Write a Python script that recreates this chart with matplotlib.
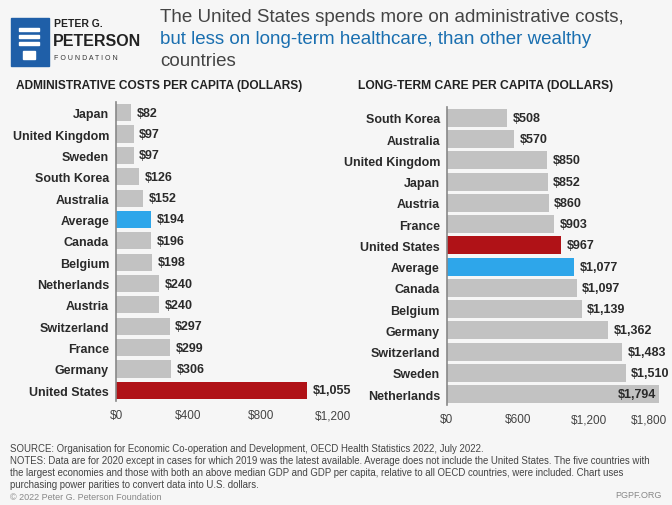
import matplotlib.pyplot as plt
from matplotlib.patches import Rectangle
from matplotlib.ticker import FuncFormatter
from matplotlib.transforms import ScaledTranslation

plt.rcParams['font.family'] = 'sans-serif'
plt.rcParams['font.sans-serif'] = ['Liberation Sans', 'DejaVu Sans']

# Administrative costs per capita
admin_countries = ['Japan', 'United Kingdom', 'Sweden', 'South Korea', 'Australia', 'Average',
                   'Canada', 'Belgium', 'Netherlands', 'Austria', 'Switzerland', 'France',
                   'Germany', 'United States']
admin_values = [82, 97, 97, 126, 152, 194, 196, 198, 240, 240, 297, 299, 306, 1055]

# Long-term care per capita
ltc_countries = ['South Korea', 'Australia', 'United Kingdom', 'Japan', 'Austria', 'France',
                 'United States', 'Average', 'Canada', 'Belgium', 'Germany', 'Switzerland',
                 'Sweden', 'Netherlands']
ltc_values = [508, 570, 850, 852, 860, 903, 967, 1077, 1097, 1139, 1362, 1483, 1510, 1794]

admin_ticks = [0, 400, 800, 1200]
ltc_ticks = [0, 600, 1200, 1800]

BG = '#f6f6f6'
GRAY = '#c2c2c2'
RED = '#b01217'
BLUE = '#2ea6ea'
TXT = '#2a2a2a'


def bar_color(name):
    if name == 'United States':
        return RED
    if name == 'Average':
        return BLUE
    return GRAY


def draw_panel(ax, names, values, ticks, height, inside_last=False):
    y = list(range(len(names)))
    ax.barh(y, values, height=height, color=[bar_color(n) for n in names], zorder=2)
    ax.set_ylim(len(names) - 0.5, -0.5)
    ax.set_xlim(0, ticks[-1])
    ax.set_yticks(y)
    ax.set_yticklabels(names, fontsize=9, fontweight='bold', color=TXT)
    ax.set_xticks(ticks)
    ax.xaxis.set_major_formatter(FuncFormatter(lambda v, p: f'${v:,.0f}'))
    ax.tick_params(axis='x', labelsize=8.5, colors='#444444', length=0, pad=6)
    ax.tick_params(axis='y', length=0, pad=5)
    for s in ['top', 'right', 'bottom']:
        ax.spines[s].set_visible(False)
    ax.spines['left'].set_color('#888888')
    ax.spines['left'].set_linewidth(1.2)
    ax.set_facecolor(BG)
    for i, v in enumerate(values):
        label = f'${v:,.0f}'
        if inside_last and i == len(values) - 1:
            ax.annotate(label, (v, i), xytext=(-2, 0), textcoords='offset points',
                        ha='right', va='center', fontsize=9, fontweight='bold', color=TXT)
        else:
            ax.annotate(label, (v, i), xytext=(4, 0), textcoords='offset points',
                        ha='left', va='center', fontsize=9, fontweight='bold', color=TXT,
                        annotation_clip=False)


fig = plt.figure(figsize=(6.72, 5.06), dpi=100)
fig.patch.set_facecolor(BG)

ax1 = fig.add_axes([0.1726, 0.2055, 0.323, 0.591])
draw_panel(ax1, admin_countries, admin_values, admin_ticks, 0.8)

ax2 = fig.add_axes([0.665, 0.198, 0.317, 0.588])
draw_panel(ax2, ltc_countries, ltc_values, ltc_ticks, 0.85, inside_last=True)
# pull the last tick label inside the canvas
last = ax2.get_xticklabels()[-1]
last.set_transform(last.get_transform() + ScaledTranslation(-8 / 72, 0, fig.dpi_scale_trans))

# Logo
fig.patches.append(Rectangle((11 / 672, 1 - 67 / 506), 38 / 672, 48 / 506,
                             transform=fig.transFigure, color='#1f5fa8', zorder=1))
for k in range(3):
    fig.patches.append(Rectangle((19 / 672, 1 - (32 + k * 7) / 506), 20 / 672, 3 / 506,
                                 transform=fig.transFigure, color='white', zorder=2))
fig.patches.append(Rectangle((23 / 672, 1 - 60 / 506), 12 / 672, 8 / 506,
                             transform=fig.transFigure, color='white', zorder=2))
fig.text(54 / 672, 1 - 24 / 506, 'PETER G.', fontsize=7.5, fontweight='bold', color='#222222',
         va='center')
fig.text(53 / 672, 1 - 41 / 506, 'PETERSON', fontsize=11.5, fontweight='bold', color='#222222',
         va='center')
fig.text(54 / 672, 1 - 58 / 506, 'F O U N D A T I O N', fontsize=5, color='#333333', va='center')

# Title
fig.text(160 / 672, 1 - 17 / 506, 'The United States spends more on administrative costs,',
         fontsize=13.5, color='#444444', va='center')
fig.text(160 / 672, 1 - 40 / 506, 'but less on long-term healthcare, than other wealthy',
         fontsize=13.5, color='#1a6fb0', va='center')
fig.text(160 / 672, 1 - 62 / 506, 'countries', fontsize=13.5, color='#444444', va='center')

# Panel titles
fig.text(16 / 672, 1 - 86 / 506, 'ADMINISTRATIVE COSTS PER CAPITA (DOLLARS)', fontsize=8.6,
         fontweight='bold', color='#222222', va='center')
fig.text(358 / 672, 1 - 86 / 506, 'LONG-TERM CARE PER CAPITA (DOLLARS)', fontsize=8.7,
         fontweight='bold', color='#222222', va='center')

# Footer
notes = [
    'SOURCE: Organisation for Economic Co-operation and Development, OECD Health Statistics 2022, July 2022.',
    'NOTES: Data are for 2020 except in cases for which 2019 was the latest available. Average does not include the United States. The five countries with',
    'the largest economies and those with both an above median GDP and GDP per capita, relative to all OECD countries, were included. Chart uses',
    'purchasing power parities to convert data into U.S. dollars.',
]
for k, line in enumerate(notes):
    fig.text(10 / 672, 1 - (449 + k * 12) / 506, line, fontsize=6.9, color='#444444', va='center')
fig.text(10 / 672, 1 - 498 / 506, '\u00a9 2022 Peter G. Peterson Foundation', fontsize=6.5,
         color='#888888', va='center')
fig.text(662 / 672, 1 - 496 / 506, 'PGPF.ORG', fontsize=6.5, color='#888888', va='center',
         ha='right')

fig.savefig('out.png', dpi=100, facecolor=fig.get_facecolor())
